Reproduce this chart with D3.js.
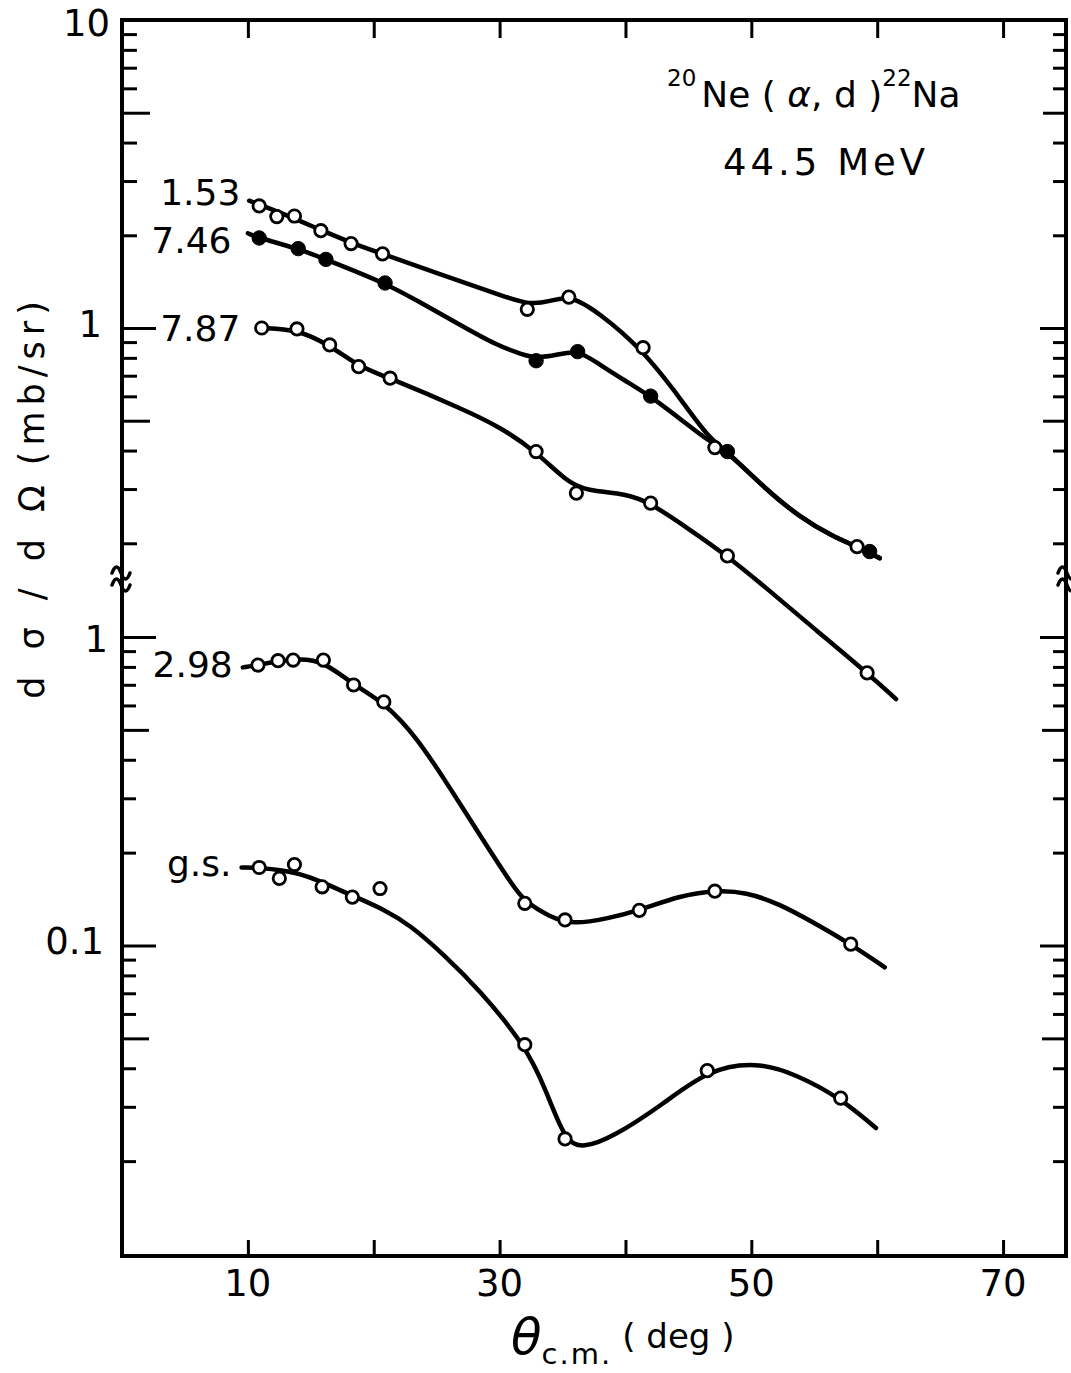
<!DOCTYPE html>
<html>
<head>
<meta charset="utf-8">
<script src="https://cdn.jsdelivr.net/npm/d3@7"></script>
<style>
  body { margin: 0; background: #fff; }
  svg { display: block; font-family: "DejaVu Sans", sans-serif; }
  .tk line { stroke: #000; stroke-width: 3; }
</style>
</head>
<body>
<div id="plot"></div>
<script>
// measured points [theta_cm (deg), dsigma/dOmega (mb/sr)]
const pts153 = [[10.9,2.49],[12.3,2.30],[13.7,2.31],[15.8,2.07],[18.2,1.88],[20.7,1.74],[32.2,1.15],[35.5,1.26],[41.4,0.863],[47.1,0.409],[58.4,0.195]];
const pts746 = [[10.9,1.96],[14.0,1.81],[16.2,1.67],[20.9,1.40],[32.9,0.783],[36.2,0.838],[42.0,0.601],[48.1,0.397],[59.4,0.188]];
const pts787 = [[11.1,1.00],[13.9,0.993],[16.5,0.881],[18.8,0.749],[21.3,0.687],[32.9,0.397],[36.1,0.291],[42.0,0.270],[48.1,0.182],[59.2,0.0759]];
const pts298 = [[10.8,0.811],[12.4,0.838],[13.6,0.842],[16.0,0.842],[18.4,0.699],[20.8,0.616],[32.0,0.137],[35.2,0.121],[41.1,0.130],[47.1,0.150],[57.9,0.101]];
const ptsGs  = [[10.9,0.179],[12.5,0.165],[13.7,0.183],[15.9,0.155],[18.3,0.1435],[20.5,0.153],[32.0,0.0477],[35.2,0.0236],[46.5,0.0393],[57.1,0.0320]];

// hand drawn curves
const tail = [[48.1,0.397],[51.2,0.298],[53.8,0.244],[56.5,0.210],[58.4,0.195],[60.2,0.179],[60.2,0.179]];
const fit153 = [[10.1,2.59],[10.1,2.59],[12.5,2.38],[15.8,2.08],[18.2,1.89],[20.7,1.74],[25.6,1.48],[30.5,1.26],[32.4,1.19],[34.0,1.22],[35.6,1.28],[37.9,1.12],[41.4,0.848],[44.5,0.58],[46.6,0.44]].concat(tail);
const fit746 = [[10.0,2.03],[10.0,2.03],[10.9,1.96],[14.0,1.81],[16.2,1.67],[20.9,1.40],[23.4,1.23],[27.1,1.01],[29.7,0.881],[31.9,0.817],[32.9,0.800],[34.5,0.815],[36.2,0.852],[37.9,0.762],[40.0,0.673],[42.0,0.601],[44.8,0.490],[46.6,0.43]].concat(tail);
const fit787 = [[11.1,1.00],[11.1,1.00],[13.9,0.99],[16.5,0.881],[18.8,0.749],[21.3,0.687],[27.1,0.545],[30.0,0.478],[32.9,0.397],[35.3,0.318],[36.9,0.296],[40.1,0.290],[42.0,0.270],[44.8,0.226],[48.1,0.182],[51.2,0.143],[55.2,0.104],[59.2,0.0759],[61.5,0.0624],[61.5,0.0624]];
const fit298 = [[9.6,0.797],[9.6,0.797],[10.8,0.811],[12.4,0.836],[14.1,0.850],[16.0,0.836],[18.4,0.699],[20.8,0.616],[23.4,0.475],[26.0,0.327],[28.7,0.219],[31.1,0.155],[32.0,0.139],[34.0,0.1236],[35.8,0.117],[38.5,0.122],[41.1,0.130],[44.3,0.145],[47.1,0.151],[49.6,0.149],[52.2,0.1365],[54.9,0.119],[57.9,0.101],[60.6,0.085],[60.6,0.085]];
const fitGs  = [[9.5,0.179],[9.5,0.179],[10.9,0.179],[13.9,0.173],[15.9,0.1606],[18.3,0.145],[20.7,0.1316],[22.9,0.1165],[25.6,0.0931],[28.4,0.0718],[32.0,0.0477],[33.7,0.034],[35.2,0.0232],[36.6,0.0220],[39.0,0.0239],[43.0,0.0306],[46.5,0.0395],[50.4,0.0420],[53.5,0.0383],[57.1,0.0320],[59.9,0.0256],[59.9,0.0256]];

// series labels [text, theta, value]
const upperLabels = [["1.53",9.4,2.75],["7.46",8.7,1.92],["7.87",9.4,1.0]];
const lowerLabels = [["2.98",8.8,0.815],["g.s.",8.7,0.184]];

// tick values
const xTicks = [10,20,30,40,50,60,70];
const xLabels = [10,30,50,70];
const upMajor = [1], upFive = [5,0.5], upMinor = [9,8,7,6,4,3,2,0.9,0.8,0.7,0.6,0.4,0.3,0.2];
const loMajor = [1,0.1], loFive = [0.5,0.05], loMinor = [0.9,0.8,0.7,0.6,0.4,0.3,0.2,0.09,0.08,0.07,0.06,0.04,0.03,0.02];

const W = 1071, H = 1373;
const X0 = 122, X1 = 1066, Y0 = 20, Y1 = 1256, BREAK = 579;

const svg = d3.select("#plot").append("svg").attr("width", W).attr("height", H);

const x = d3.scaleLinear().domain([0, 75]).range([X0, X1]);
const yUp = d3.scaleLog().domain([1, 10]).range([328, Y0]);
const yLo = d3.scaleLog().domain([0.01, 1]).range([Y1 - 2, 637]);

// frame
svg.append("rect").attr("x", X0).attr("y", Y0).attr("width", X1 - X0).attr("height", Y1 - Y0)
  .attr("fill", "none").attr("stroke", "#000").attr("stroke-width", 4);

function yTicks(scale, vals, lenL, lenR) {
  svg.append("g").attr("class", "tk").attr("transform", `translate(${X0},0)`)
    .call(d3.axisRight(scale).tickValues(vals).tickSize(lenL).tickFormat(""))
    .call(g => g.select(".domain").remove());
  svg.append("g").attr("class", "tk").attr("transform", `translate(${X1},0)`)
    .call(d3.axisLeft(scale).tickValues(vals).tickSize(lenR).tickFormat(""))
    .call(g => g.select(".domain").remove());
}
yTicks(yUp, upMajor, 34, 26);
yTicks(yUp, upFive, 28, 23);
yTicks(yUp, upMinor, 15, 13);
yTicks(yLo, loMajor, 34, 26);
yTicks(yLo, loFive, 27, 24);
yTicks(yLo, loMinor, 14, 13);

svg.append("g").attr("class", "tk").attr("transform", `translate(0,${Y1})`)
  .call(d3.axisTop(x).tickValues(xTicks).tickSize(16).tickFormat(""))
  .call(g => g.select(".domain").remove());
svg.append("g").attr("class", "tk").attr("transform", `translate(0,${Y0})`)
  .call(d3.axisBottom(x).tickValues(xTicks).tickSize(18).tickFormat(""))
  .call(g => g.select(".domain").remove());

// axis break marks (two tildes across each side)
[[X0, -1], [X1, 1]].forEach(([bx, side]) => {
  [-6, 6].forEach(dy => {
    const sx = side < 0 ? bx - 10 : bx - 8;
    svg.append("path")
      .attr("d", `M${sx},${BREAK + dy} c3,-8 6,-8 9,0 s6,8 9,0`)
      .attr("fill", "none").attr("stroke", "#000").attr("stroke-width", 3.5)
      .attr("stroke-linecap", "round");
  });
});

// tick labels
const lab = (t, px, py, anchor, size) => svg.append("text").attr("x", px).attr("y", py)
  .attr("text-anchor", anchor).attr("dominant-baseline", "central")
  .attr("font-size", size).text(t);
lab("10", X0 - 12, yUp(10) + 3, "end", 37);
lab("1", X0 - 20, yUp(1) - 4, "end", 37);
lab("1", X0 - 14, yLo(1) + 2, "end", 37);
lab("0.1", X0 - 18, yLo(0.1) - 4, "end", 37);
xLabels.forEach(v => lab(v, x(v), Y1 + 27, "middle", 37));

// curves
const lineUp = d3.line().x(d => x(d[0])).y(d => yUp(d[1])).curve(d3.curveBasis);
const lineLo = d3.line().x(d => x(d[0])).y(d => yLo(d[1])).curve(d3.curveBasis);
[[fit153, lineUp], [fit746, lineUp], [fit787, lineUp], [fit298, lineLo], [fitGs, lineLo]].forEach(([d, ln]) => {
  svg.append("path").datum(d).attr("d", ln)
    .attr("fill", "none").attr("stroke", "#000").attr("stroke-width", 4.5)
    .attr("stroke-linejoin", "round").attr("stroke-linecap", "round");
});

// markers
function markers(data, y, filled) {
  svg.append("g").selectAll("circle").data(data).enter().append("circle")
    .attr("cx", d => x(d[0])).attr("cy", d => y(d[1]))
    .attr("r", filled ? 7.2 : 6.2)
    .attr("fill", filled ? "#000" : "#fff")
    .attr("stroke", "#000").attr("stroke-width", filled ? 1 : 2.8);
}
markers(pts153, yUp, false);
markers(pts746, yUp, true);
markers(pts787, yUp, false);
markers(pts298, yLo, false);
markers(ptsGs, yLo, false);

// series labels
upperLabels.forEach(([t, a, v]) => lab(t, x(a), yUp(v), "end", 36));
lowerLabels.forEach(([t, a, v]) => lab(t, x(a), yLo(v), "end", 36));

// title
const title = svg.append("text").attr("x", 667).attr("y", 107).attr("font-size", 36);
title.append("tspan").attr("font-size", 23).attr("dy", -21).text("20");
title.append("tspan").attr("dy", 21).attr("dx", 5).text("Ne ( ");
title.append("tspan").attr("font-style", "italic").text("α");
title.append("tspan").text(", d )");
title.append("tspan").attr("font-size", 23).attr("dy", -21).text("22");
title.append("tspan").attr("dy", 21).text("Na");
svg.append("text").attr("x", 723).attr("y", 175).attr("font-size", 37)
  .attr("letter-spacing", 4).text("44.5 MeV");

// y label
const yl = svg.append("text").attr("transform", "translate(44,497) rotate(-90)")
  .attr("text-anchor", "middle").attr("font-size", 35);
yl.append("tspan").attr("letter-spacing", 8).text("d σ / d Ω");
yl.append("tspan").attr("letter-spacing", 6).attr("dx", 12).text("(mb/sr)");

// x label
const xl = svg.append("text").attr("x", 511).attr("y", 1354).attr("font-size", 34);
xl.append("tspan").attr("font-style", "italic").attr("font-size", 50).text("θ");
xl.append("tspan").attr("font-size", 29).attr("letter-spacing", 2).attr("dy", 10).text("c.m.");
xl.append("tspan").attr("dy", -16).attr("dx", 10).text("( deg )");
</script>
</body>
</html>
